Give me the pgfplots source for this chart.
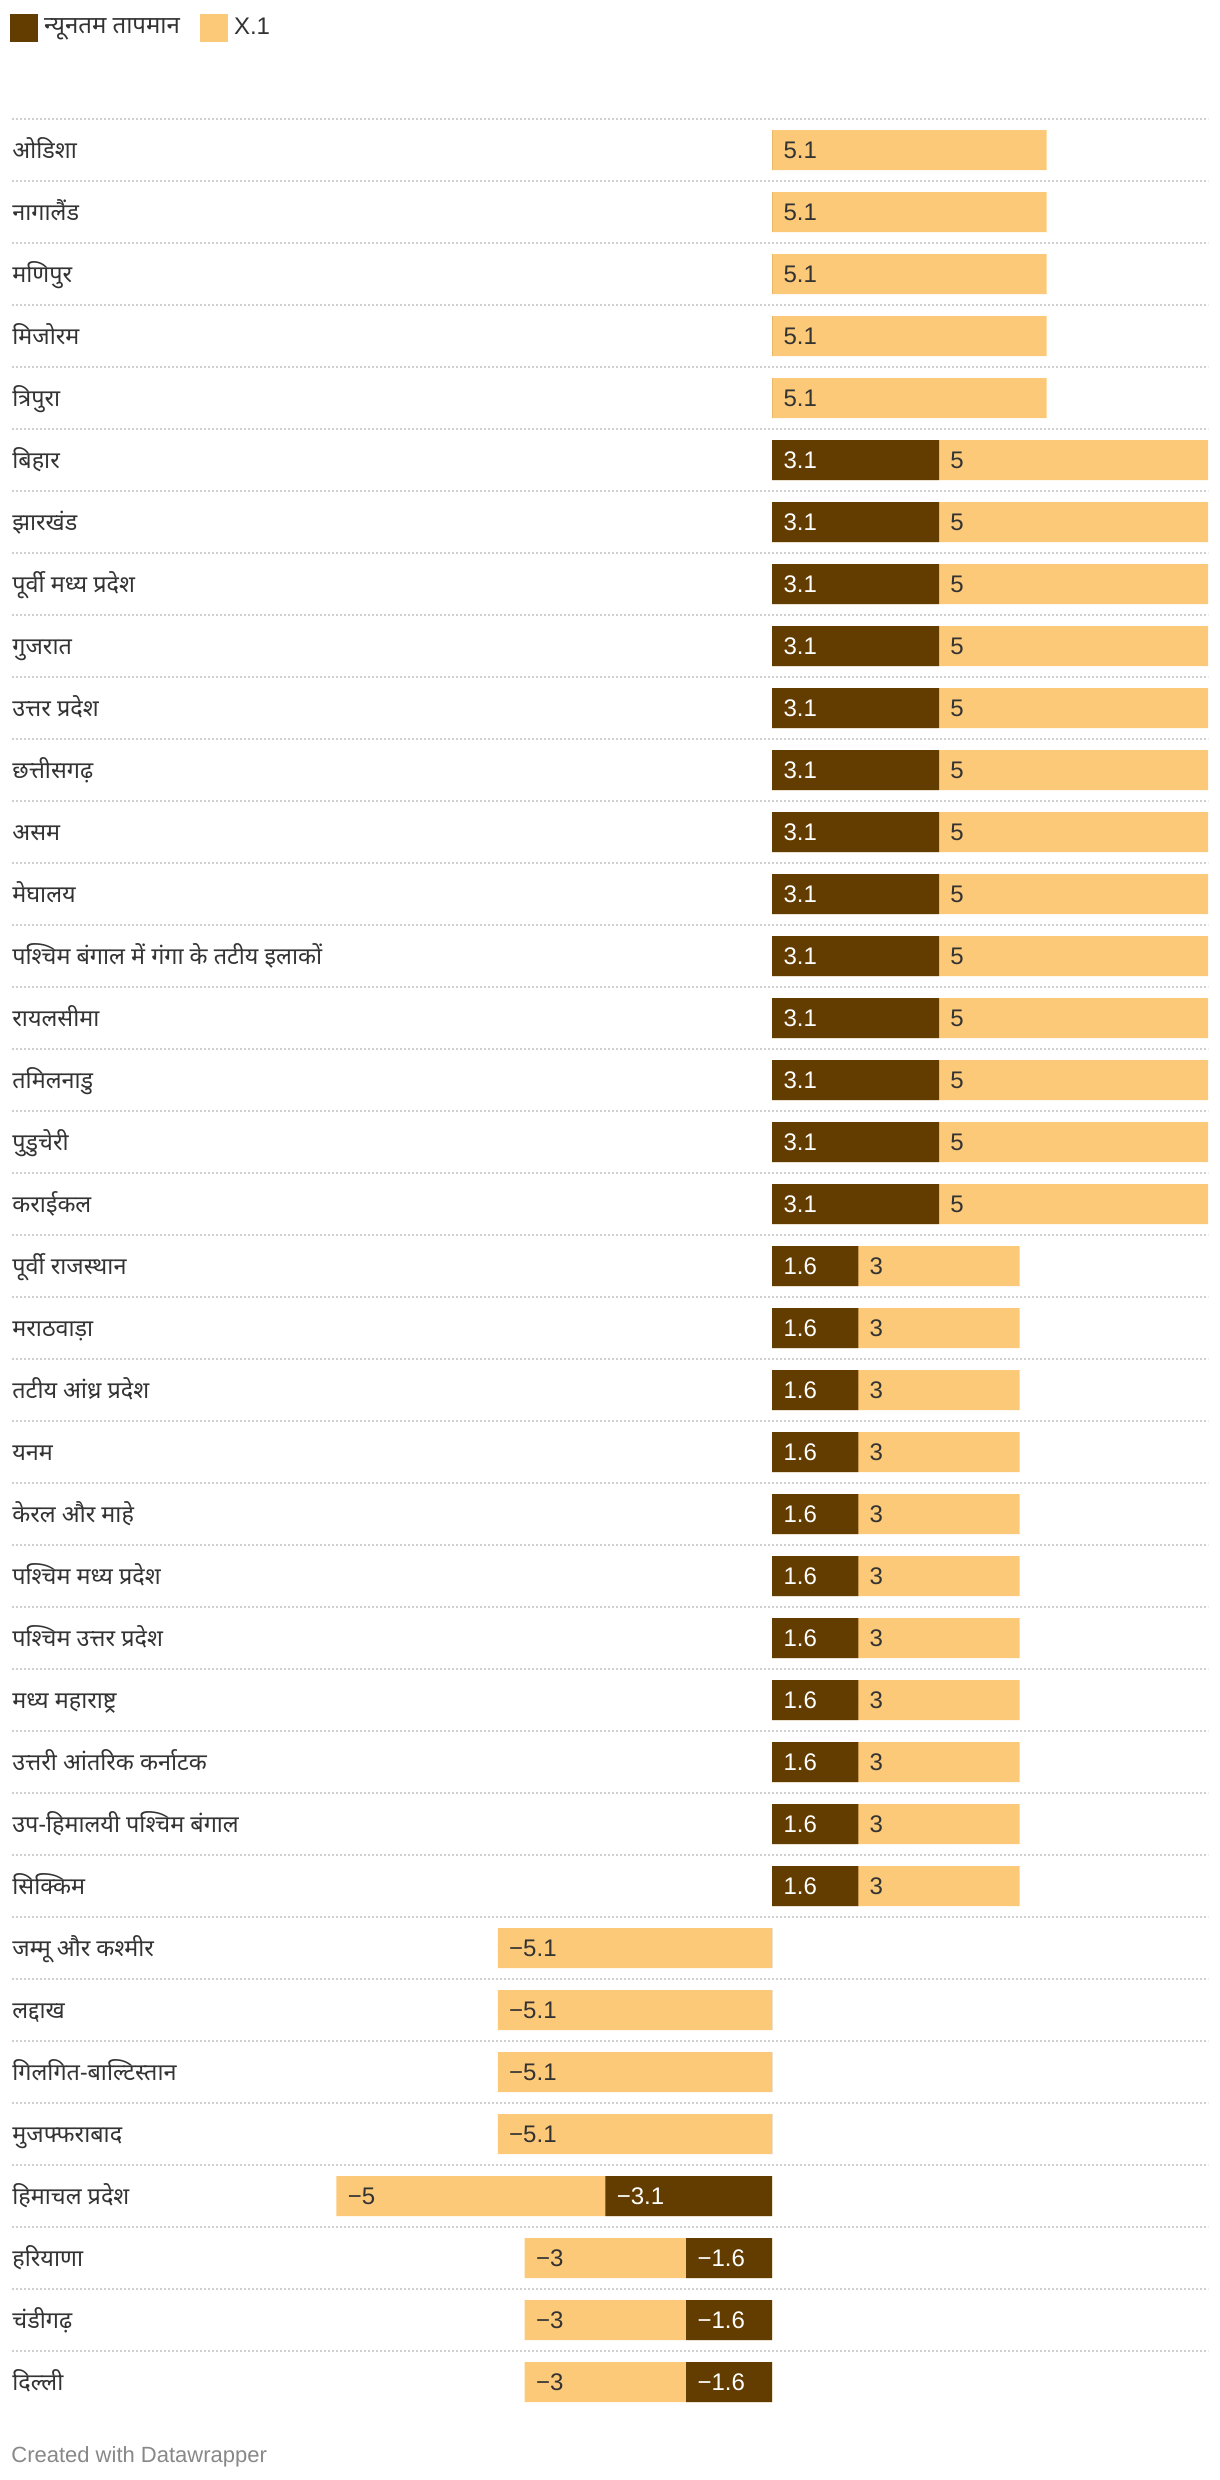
\documentclass[border=0pt]{standalone}
\usepackage{pgfplots}
\usepackage{pgfplotstable}
\pgfplotsset{compat=1.18}
\usepackage{fontspec}
\setmainfont{Liberation Sans}
\newfontfamily\devfont[Script=Devanagari]{Noto Sans}
\definecolor{darkc}{HTML}{633D00}
\definecolor{lightc}{HTML}{FCC978}
\definecolor{txt}{HTML}{333333}
\definecolor{gridc}{HTML}{CFCFCF}
\definecolor{credit}{HTML}{888888}
\pgfplotstableread[col sep=comma]{
row,name,dark,light,dlab,llab
0,ओडिशा,0,5.1,,5.1
1,नागालैंड,0,5.1,,5.1
2,मणिपुर,0,5.1,,5.1
3,मिजोरम,0,5.1,,5.1
4,त्रिपुरा,0,5.1,,5.1
5,बिहार,3.1,5,3.1,5
6,झारखंड,3.1,5,3.1,5
7,पूर्वी मध्य प्रदेश,3.1,5,3.1,5
8,गुजरात,3.1,5,3.1,5
9,उत्तर प्रदेश,3.1,5,3.1,5
10,छत्तीसगढ़,3.1,5,3.1,5
11,असम,3.1,5,3.1,5
12,मेघालय,3.1,5,3.1,5
13,पश्चिम बंगाल में गंगा के तटीय इलाकों,3.1,5,3.1,5
14,रायलसीमा,3.1,5,3.1,5
15,तमिलनाडु,3.1,5,3.1,5
16,पुडुचेरी,3.1,5,3.1,5
17,कराईकल,3.1,5,3.1,5
18,पूर्वी राजस्थान,1.6,3,1.6,3
19,मराठवाड़ा,1.6,3,1.6,3
20,तटीय आंध्र प्रदेश,1.6,3,1.6,3
21,यनम,1.6,3,1.6,3
22,केरल और माहे,1.6,3,1.6,3
23,पश्चिम मध्य प्रदेश,1.6,3,1.6,3
24,पश्चिम उत्तर प्रदेश,1.6,3,1.6,3
25,मध्य महाराष्ट्र,1.6,3,1.6,3
26,उत्तरी आंतरिक कर्नाटक,1.6,3,1.6,3
27,उप-हिमालयी पश्चिम बंगाल,1.6,3,1.6,3
28,सिक्किम,1.6,3,1.6,3
29,जम्मू और कश्मीर,0,-5.1,,−5.1
30,लद्दाख,0,-5.1,,−5.1
31,गिलगित-बाल्टिस्तान,0,-5.1,,−5.1
32,मुजफ्फराबाद,0,-5.1,,−5.1
33,हिमाचल प्रदेश,-3.1,-5,−3.1,−5
34,हरियाणा,-1.6,-3,−1.6,−3
35,चंडीगढ़,-1.6,-3,−1.6,−3
36,दिल्ली,-1.6,-3,−1.6,−3
}\datatable
\begin{document}
\begin{tikzpicture}
\useasboundingbox (0,0) rectangle (610bp,-1240bp);
\begin{axis}[
  at={(6bp,-59.5bp)}, anchor=north west,
  scale only axis, width=598bp, height=1147bp,
  xmin=-14.13, xmax=8.1, ymin=-0.5, ymax=36.5, y dir=reverse,
  clip=false,
  axis line style={draw=none},
  major tick length=0pt, minor tick length=0pt,
  xtick=\empty,
  ytick={0,...,36},
  yticklabels from table={\datatable}{name},
  yticklabel style={anchor=base west, inner sep=0pt, yshift=-4bp, font=\devfont\fontsize{11.7bp}{14bp}\selectfont, text=txt},
  minor ytick={-0.5,0.5,...,35.5},
  yminorgrids=true,
  minor grid style={gridc, line width=1bp, dash pattern=on 1bp off 1bp},
  reverse legend,
  legend image code/.code={\fill[#1, draw=none] (0bp,-7bp) rectangle (14bp,7bp);},
  legend style={at={(axis description cs:0,1)}, anchor=north west, xshift=-1bp, yshift=52.5bp,
    draw=none, fill=none, inner sep=0pt, outer sep=0pt, legend columns=2,
    nodes={inner sep=0pt, text=txt},
    /tikz/every odd column/.append style={column sep=3bp},
    /tikz/every even column/.append style={column sep=10bp}},
]
\addplot[xbar, bar width=20bp, bar shift=0pt, fill=lightc, draw=none]
  table[x expr={\thisrow{dark}+\thisrow{light}}, y=row]{\datatable};
\addlegendentry{\fontsize{12bp}{14bp}\selectfont X.1}
\addplot[xbar, bar width=20bp, bar shift=0pt, fill=darkc, draw=none]
  table[x=dark, y=row]{\datatable};
\addlegendentry{\devfont\fontsize{12bp}{14bp}\selectfont न्यूनतम तापमान}
\addplot[forget plot, only marks, mark=*, mark size=0pt, mark options={draw=none, fill=none},
  nodes near coords, point meta=explicit symbolic,
  every node near coord/.append style={anchor=base west, inner sep=0pt, xshift=5.5bp, yshift=-4bp, text=white, font=\fontsize{12bp}{14bp}\selectfont}]
  table[x expr={min(0,\thisrow{dark})}, y=row, meta=dlab]{\datatable};
\addplot[forget plot, only marks, mark=*, mark size=0pt, mark options={draw=none, fill=none},
  nodes near coords, point meta=explicit symbolic,
  every node near coord/.append style={anchor=base west, inner sep=0pt, xshift=5.5bp, yshift=-4bp, text=txt, font=\fontsize{12bp}{14bp}\selectfont}]
  table[x expr={min(\thisrow{dark},\thisrow{dark}+\thisrow{light})}, y=row, meta=llab]{\datatable};
\end{axis}
\node[anchor=base west, inner sep=0pt, text=credit, font=\fontsize{11bp}{13bp}\selectfont] at (5.5bp,-1231bp) {Created with Datawrapper};
\end{tikzpicture}
\end{document}
